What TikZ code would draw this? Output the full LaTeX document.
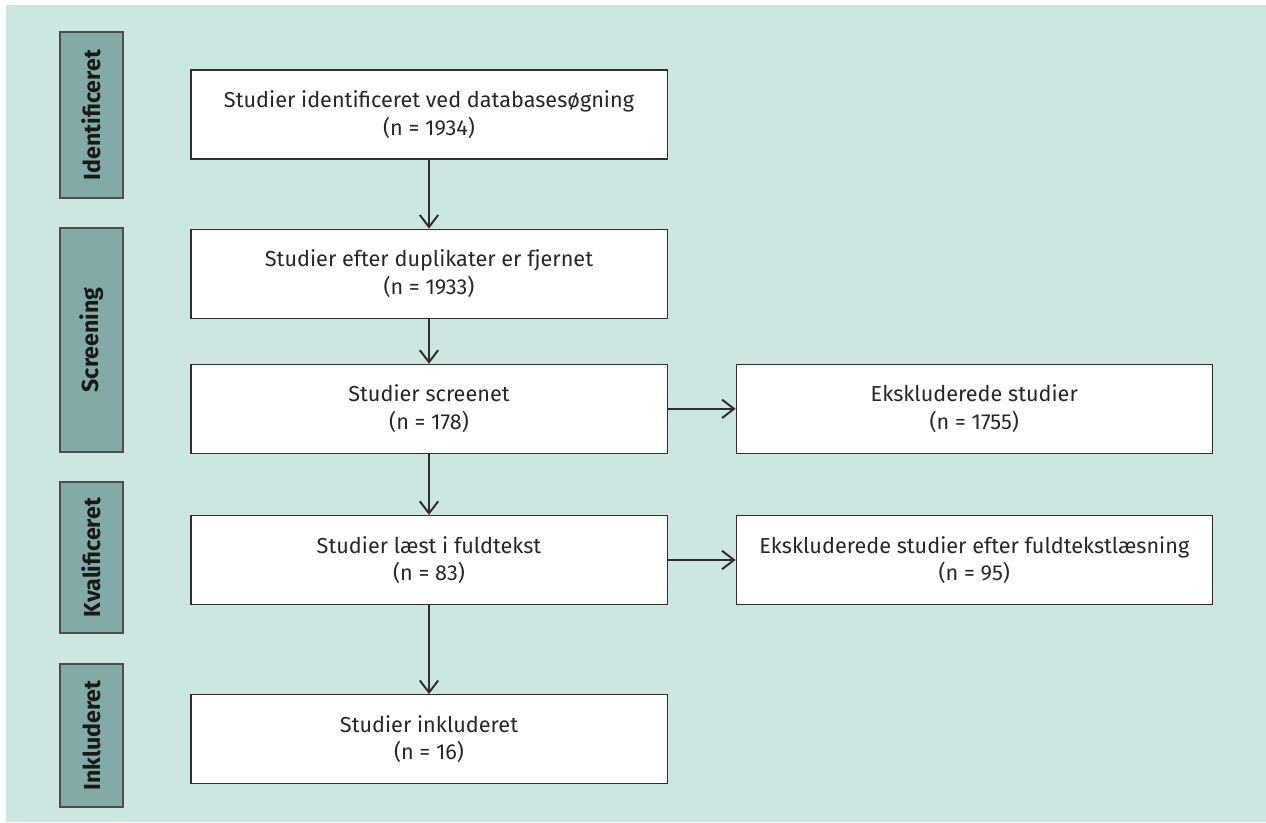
\documentclass[tikz,border=0pt]{standalone}
\usepackage{fontspec}
\setmainfont{Fira Sans}
\usepackage{xcolor}
\definecolor{panel}{HTML}{CDE6E2}
\definecolor{phasefill}{HTML}{82ABA7}
\definecolor{edge}{HTML}{2E2E2E}
\usetikzlibrary{positioning,arrows.meta}

\begin{document}
\begin{tikzpicture}[x=0.025cm,y=-0.025cm,
  node distance=1.7cm and 1.7cm,
  box/.style={draw=edge,fill=white,line width=0.8pt,align=center,font=\fontsize{15.4}{19.5}\selectfont,text=black!85,
              minimum height=2.225cm,minimum width=11.9cm,inner sep=0pt},
  phase/.style={draw=edge!85,fill=phasefill,line width=0.8pt,rotate=90,font=\fontsize{16.5}{18}\selectfont\bfseries,text=black!90,
              minimum height=1.575cm,inner sep=0pt},
  arr/.style={-{Straight Barb[length=3mm,width=4.6mm]},color=edge,line width=1.4pt}]
\useasboundingbox (0,0) rectangle (1266,822);
\fill[panel] (6,5) rectangle (1266,822);
% phases
\node[phase,minimum width=4.15cm] (ident) at (91.5,115) {Identificeret};
\node[phase,minimum width=5.6cm] (screen) at (91.5,340) {Screening};
\node[phase,minimum width=3.775cm] (kval) at (91.5,557.5) {Kvalificeret};
\node[phase,minimum width=3.575cm] (inkl) at (91.5,735.5) {Inkluderet};
% flow
\node[box] (found) at (429,114.5) {Studier identificeret ved databasesøgning\\(n = 1934)};
\node[box,below=1.725cm of found] (dedup) {Studier efter duplikater er fjernet\\(n = 1933)};
\node[box,below=1.125cm of dedup] (screened) {Studier screenet\\(n = 178)};
\node[box,below=1.525cm of screened] (fulltext) {Studier læst i fuldtekst\\(n = 83)};
\node[box,below=2.225cm of fulltext] (incl) {Studier inkluderet\\(n = 16)};
\node[box,right=of screened] (excl) {Ekskluderede studier\\(n = 1755)};
\node[box,right=of fulltext] (exclft) {Ekskluderede studier efter fuldtekstlæsning\\(n = 95)};
\draw[arr] (found) -- (dedup); \draw[arr] (dedup) -- (screened);
\draw[arr] (screened) -- (fulltext); \draw[arr] (fulltext) -- (incl);
\draw[arr] (screened) -- (excl); \draw[arr] (fulltext) -- (exclft);
\end{tikzpicture}
\end{document}
